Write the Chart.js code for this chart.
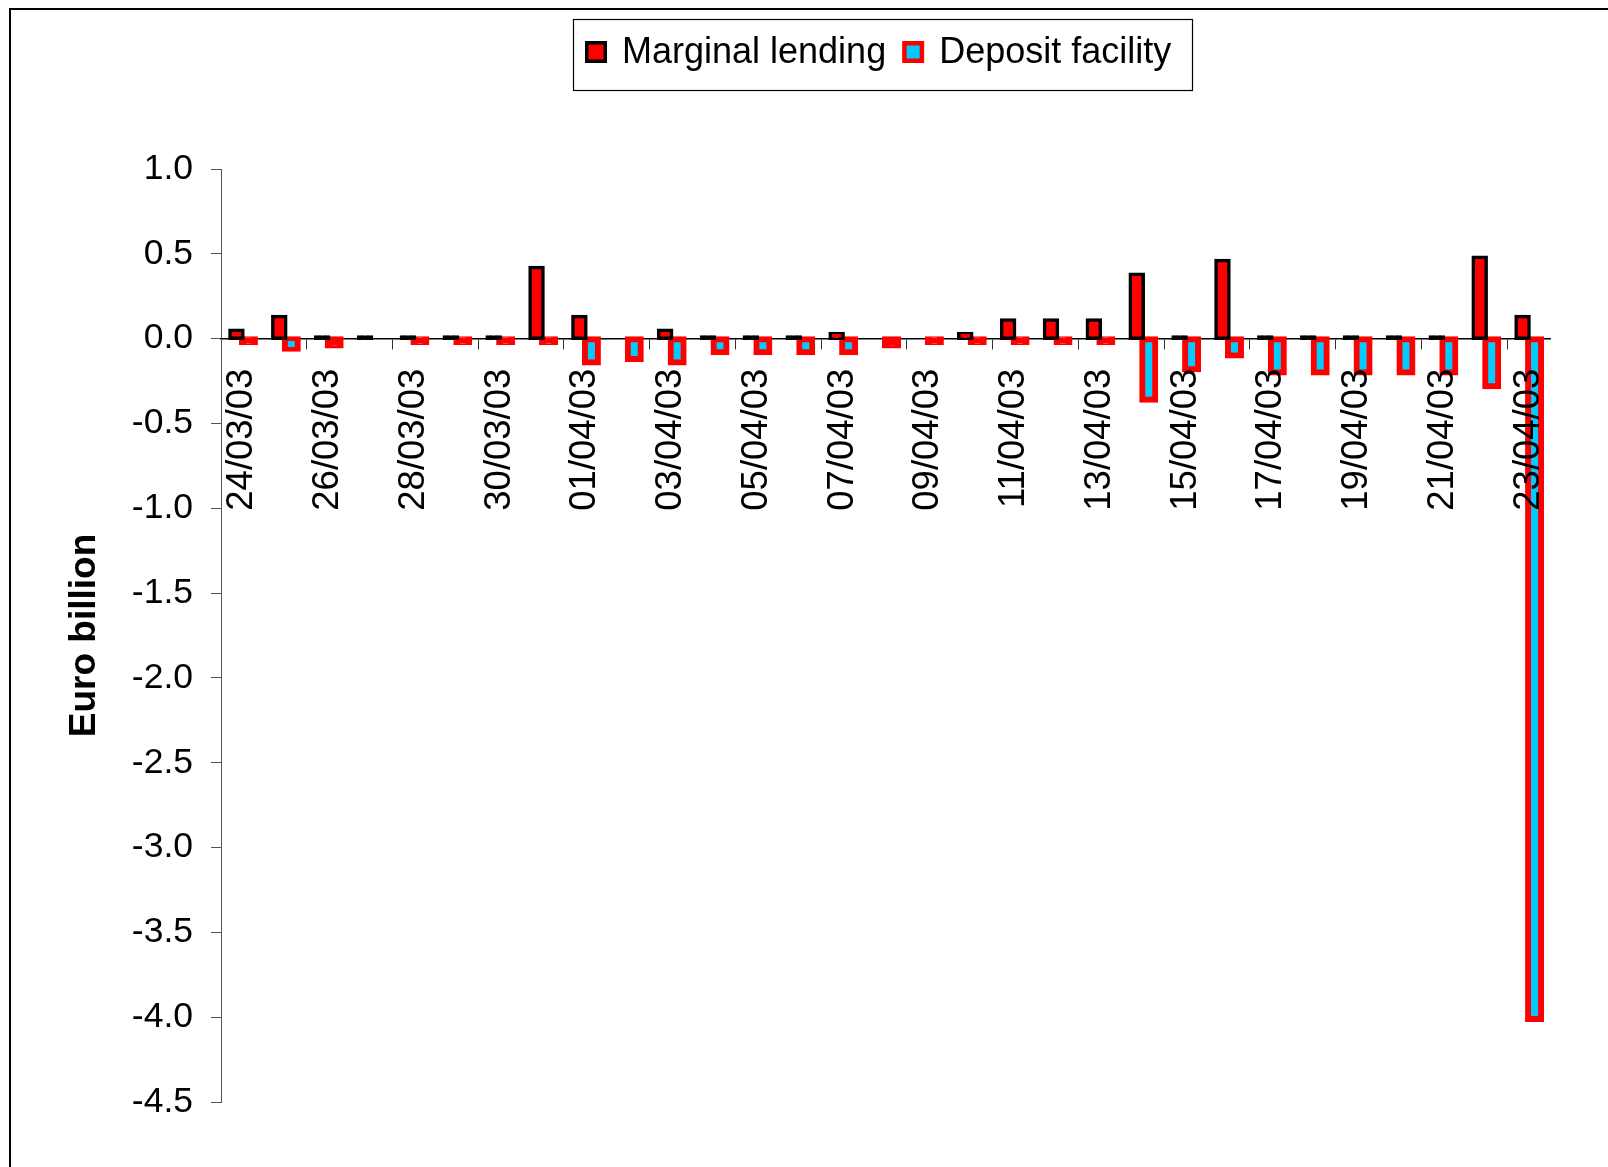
<!DOCTYPE html>
<html>
<head>
<meta charset="utf-8">
<script src="https://cdn.jsdelivr.net/npm/chart.js@4.4.0/dist/chart.umd.min.js"></script>
<style>
html, body { margin: 0; padding: 0; background: #ffffff; }
#wrap { width: 1608px; height: 1167px; position: relative; overflow: hidden; }
canvas { display: block; }
</style>
</head>
<body>
<div id="wrap"><canvas id="c" width="1608" height="1167"></canvas></div>
<script>
// ---- data ----
const categories = [
  '24/03/03','25/03/03','26/03/03','27/03/03','28/03/03','29/03/03','30/03/03','31/03/03',
  '01/04/03','02/04/03','03/04/03','04/04/03','05/04/03','06/04/03','07/04/03','08/04/03',
  '09/04/03','10/04/03','11/04/03','12/04/03','13/04/03','14/04/03','15/04/03','16/04/03',
  '17/04/03','18/04/03','19/04/03','20/04/03','21/04/03','22/04/03','23/04/03'
];
const seriesNames = ['Marginal lending', 'Deposit facility'];
const marginalLending = [
  0.05, 0.13, 0.01, 0.01, 0.01, 0.01, 0.01, 0.42,
  0.13, 0, 0.05, 0.01, 0.01, 0.01, 0.03, 0,
  0, 0.03, 0.11, 0.11, 0.11, 0.38, 0.01, 0.46,
  0.01, 0.01, 0.01, 0.01, 0.01, 0.48, 0.13
];
const depositFacility = [
  -0.02, -0.06, -0.04, 0, -0.02, -0.02, -0.02, -0.02,
  -0.14, -0.12, -0.14, -0.08, -0.08, -0.08, -0.08, -0.04,
  -0.02, -0.02, -0.02, -0.02, -0.02, -0.36, -0.18, -0.10,
  -0.20, -0.20, -0.20, -0.20, -0.20, -0.28, -4.01
];
const yMin = -4.5;
const yMax = 1.0;
const yStep = 0.5;
const yTitle = 'Euro billion';

// ---- styles ----
const FONT = "'Liberation Sans', Arial, sans-serif";
const RED = '#ff0000';
const CYAN = '#00ccff';
const NONE = 'rgba(0,0,0,0)';

const frameAndLegend = {
  id: 'frameAndLegend',
  afterDraw(chart) {
    const ctx = chart.ctx;
    ctx.save();
    // outer frame (left and top edges visible)
    ctx.strokeStyle = '#000';
    ctx.lineWidth = 2;
    ctx.beginPath();
    ctx.moveTo(10, 1170);
    ctx.lineTo(10, 9);
    ctx.lineTo(1610, 9);
    ctx.stroke();

    // legend box
    const bx = 573, by = 19, bw = 619, bh = 71;
    ctx.lineWidth = 1.2;
    ctx.strokeStyle = '#000';
    ctx.strokeRect(bx + 0.5, by + 0.5, bw, bh);

    ctx.font = '36px ' + FONT;
    ctx.textBaseline = 'middle';
    ctx.textAlign = 'left';
    const cy = 52;
    const size = 22;
    let x = 585;
    const styles = [
      { border: '#000', fill: RED, bw: 3.5 },
      { border: RED, fill: CYAN, bw: 4.5 }
    ];
    chart.data.datasets.forEach((ds, i) => {
      const st = styles[i];
      ctx.fillStyle = st.border;
      ctx.fillRect(x, cy - size / 2, size, size);
      ctx.fillStyle = st.fill;
      ctx.fillRect(x + st.bw, cy - size / 2 + st.bw, size - 2 * st.bw, size - 2 * st.bw);
      ctx.fillStyle = '#000';
      const tx = x + size + 15;
      ctx.fillText(ds.label, tx, cy + 1);
      x = tx + ctx.measureText(ds.label).width + 16;
    });
    ctx.restore();
  }
};

new Chart(document.getElementById('c'), {
  type: 'bar',
  data: {
    labels: categories,
    datasets: [
      {
        label: seriesNames[0],
        data: marginalLending,
        backgroundColor: (c) => c.raw === 0 ? NONE : (Math.abs(c.raw) < 0.015 ? '#000' : RED),
        borderColor: (c) => c.raw === 0 ? NONE : '#000',
        borderWidth: 3.5,
        borderSkipped: false,
        inflateAmount: 1.75,
        categoryPercentage: 0.56,
        barPercentage: 13 / 12
      },
      {
        label: seriesNames[1],
        data: depositFacility,
        backgroundColor: (c) => c.raw === 0 ? NONE : (Math.abs(c.raw) < 0.05 ? RED : CYAN),
        borderColor: (c) => c.raw === 0 ? NONE : RED,
        borderWidth: 6,
        borderSkipped: false,
        inflateAmount: 3,
        categoryPercentage: 0.56,
        barPercentage: 13 / 12
      }
    ]
  },
  options: {
    responsive: false,
    animation: false,
    devicePixelRatio: 1,
    layout: { padding: { left: 59, right: 58, top: 169, bottom: 65 } },
    plugins: {
      legend: { display: false },
      tooltip: { enabled: false },
      title: { display: false }
    },
    scales: {
      x: {
        type: 'category',
        position: { y: 0 },
        offset: true,
        grid: {
          offset: true,
          drawOnChartArea: false,
          drawTicks: true,
          tickLength: 10,
          lineWidth: 1,
          color: (c) => (c.type === 'tick' && c.index % 2 === 0) ? '#333' : NONE
        },
        border: { display: true, color: '#000', width: 1.5 },
        ticks: {
          z: 1,
          autoSkip: false,
          minRotation: 90,
          maxRotation: 90,
          padding: 20,
          color: '#000',
          font: { family: FONT, size: 36.5 },
          callback: function (val, idx) {
            return idx % 2 === 0 ? this.getLabelForValue(val) : '';
          }
        }
      },
      y: {
        min: yMin,
        max: yMax,
        afterFit: (s) => { s.width = 162; },
        grid: {
          drawOnChartArea: false,
          drawTicks: true,
          tickLength: 10,
          color: '#555',
          lineWidth: 1
        },
        border: { display: true, color: '#555', width: 1 },
        ticks: {
          stepSize: yStep,
          padding: 18,
          color: '#000',
          font: { family: FONT, size: 35.5 },
          callback: (v) => (Math.abs(v) < 1e-9 ? 0 : v).toFixed(1)
        },
        title: {
          display: true,
          text: yTitle,
          color: '#000',
          font: { family: FONT, size: 37, weight: 'bold' },
          padding: { top: 4, bottom: 4 }
        }
      }
    }
  },
  plugins: [frameAndLegend]
});
</script>
</body>
</html>
